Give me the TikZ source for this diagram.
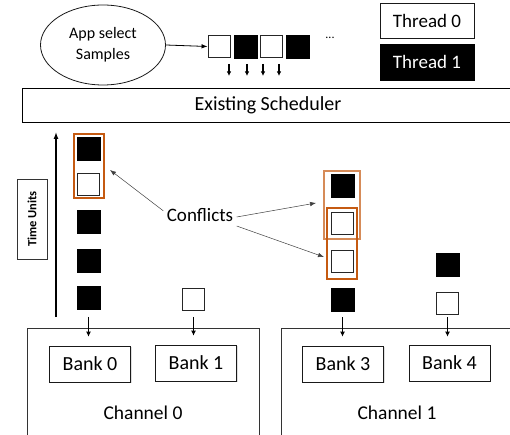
\documentclass[tikz,border=0pt]{standalone}
\usepackage{fontspec}
\setmainfont{Carlito}
\usetikzlibrary{arrows.meta,shadows,shapes.geometric}
\definecolor{confl}{RGB}{197,90,17}
\begin{document}
\begin{tikzpicture}[x=1pt,y=-1pt,
  sqw/.style={draw=black!85,fill=white,line width=0.9pt,minimum width=22pt,minimum height=22pt,inner sep=0pt},
  sqb/.style={draw=black,fill=black,line width=0.5pt,minimum width=23pt,minimum height=23pt,inner sep=0pt},
  bank/.style={draw=black!90,fill=white,line width=0.7pt,minimum width=81pt,minimum height=36pt,inner sep=0pt,font=\fontsize{20}{22}\selectfont,
    drop shadow={shadow xshift=1.2pt,shadow yshift=-1.2pt,opacity=0.25}},
  chan/.style={draw=black!80,line width=0.7pt},
  orbox/.style={draw=confl,line width=1.1pt},
  arr/.style={-{Latex[length=5pt,width=5pt]},line width=1.6pt},
  thinarr/.style={-{Latex[length=6pt,width=4.5pt]},draw=black!75,line width=0.5pt},
  ]
\useasboundingbox (0,0) rectangle (510,435);
% top row
\node[ellipse,draw=black!90,line width=0.8pt,minimum width=125pt,minimum height=80pt,inner sep=0pt,align=center,font=\fontsize{16}{21}\selectfont] (app) at (103,45) {App select\\Samples};
\node[sqw] (q1) at (219,46.5) {};
\node[sqb] (q2) at (245.5,46.5) {};
\node[sqw] (q3) at (271.5,46.5) {};
\node[sqb] (q4) at (298,46.5) {};
\node[font=\fontsize{12}{14}\selectfont] (dots) at (330,38) {...};
\draw[-{Latex[length=6pt,width=4.5pt]},line width=0.8pt] (app.east) -- (q1.west);
\foreach \i/\x in {1/229,2/247,3/263,4/279}{
  \coordinate (da\i) at (\x,64);
  \coordinate (db\i) at (\x,76);
  \draw[-{Latex[length=4.5pt,width=4.5pt]},line width=1.5pt] (da\i) -- (db\i);
}
\node[draw=black!90,fill=white,line width=0.8pt,minimum width=94pt,minimum height=35pt,inner sep=0pt,font=\fontsize{19}{22}\selectfont,
  drop shadow={shadow xshift=1.2pt,shadow yshift=-1.2pt,opacity=0.25}] (t0) at (427,20.5) {Thread 0};
\node[draw=black,fill=black,text=white,minimum width=94pt,minimum height=36pt,inner sep=0pt,font=\fontsize{19}{22}\selectfont,
  drop shadow={shadow xshift=1.2pt,shadow yshift=-1.2pt,opacity=0.25}] (t1) at (427,62) {Thread 1};
% scheduler
\draw[line width=0.8pt] (514,88) -- (22,88) -- (22,122) -- (514,122);
\node[font=\fontsize{20}{22}\selectfont] (sched) at (268,105) {Existing Scheduler};
% time axis
\coordinate (ta) at (56,317);
\coordinate (tb) at (56,132);
\draw[-{Latex[length=7pt,width=5pt]},line width=1.3pt] (ta) -- (tb);
\node[draw=black!80,line width=0.7pt,rotate=90,minimum width=80pt,minimum height=30pt,inner sep=0pt,font=\fontsize{12.5}{14}\bfseries\selectfont] (tu) at (32,219) {Time Units};
% column 1
\node[sqb] (c1a) at (88.5,149) {};
\node[sqw] (c1b) at (88.5,184) {};
\node[sqb] (c1c) at (88.5,222) {};
\node[sqb] (c1d) at (88.5,260.5) {};
\node[sqb] (c1e) at (88.5,298) {};
\draw[orbox] (74,134) rectangle (104,198);
% column 2
\node[sqw] (c2a) at (193.5,299.5) {};
% column 3
\node[sqb] (c3a) at (342.5,185.5) {};
\node[sqw] (c3b) at (342.5,223) {};
\node[sqw] (c3c) at (342.5,261) {};
\node[sqb] (c3d) at (342.5,299.5) {};
\draw[orbox,draw=confl!70] (324,171) rectangle (360,239);
\draw[orbox] (327,208) rectangle (357,279);
% column 4
\node[sqb] (c4a) at (447.5,264.5) {};
\node[sqw] (c4b) at (447.5,303) {};
% conflicts
\node[font=\fontsize{19}{22}\selectfont] (conf) at (200,215) {Conflicts};
\coordinate (k1) at (110,170);
\coordinate (k2) at (316,203);
\coordinate (k3) at (324,257);
\draw[thinarr] (conf.north west) ++(0,6) -- (k1);
\draw[thinarr] ([yshift=-2pt]conf.east) -- (k2);
\draw[thinarr] ([yshift=-11pt]conf.east) ++(0,0) -- (k3);
% channels
\draw[chan] (27,435) -- (27,328) -- (259,328) -- (259,435);
\draw[chan] (281,435) -- (281,328) -- (514,328);
\node[font=\fontsize{19.5}{22}\selectfont] (ch0) at (143,413) {Channel 0};
\node[font=\fontsize{19.5}{22}\selectfont] (ch1) at (397,413) {Channel 1};
\node[bank] (b0) at (90,364) {Bank 0};
\node[bank] (b1) at (196,363) {Bank 1};
\node[bank] (b3) at (343,364) {Bank 3};
\node[bank] (b4) at (449.5,363) {Bank 4};
% arrows into banks
\draw[arr] ([yshift=-7pt]c1e.south) -- ([yshift=9pt]c1e.south |- b0.north);
\draw[arr] ([yshift=-6pt]c2a.south) -- ([yshift=9pt]c2a.south |- b1.north);
\draw[arr] ([yshift=-6pt]c3d.south) -- ([yshift=9pt]c3d.south |- b3.north);
\draw[arr] ([yshift=-3pt]c4b.south) -- ([yshift=8pt]c4b.south |- b4.north);
\end{tikzpicture}
\end{document}
